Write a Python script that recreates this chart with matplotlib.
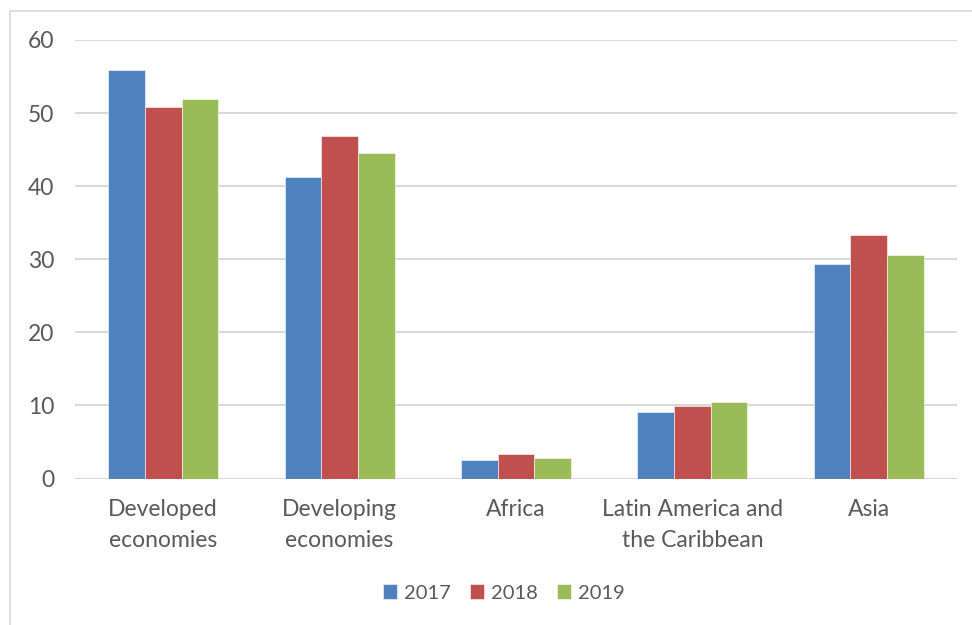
import numpy as np
import matplotlib
matplotlib.use("Agg")
import matplotlib.pyplot as plt
from matplotlib.patches import Rectangle

plt.rcParams['font.family'] = ['Lato', 'DejaVu Sans']

# regions and yearly values
regions = ['Developed\neconomies', 'Developing\neconomies', 'Africa',
           'Latin America and\nthe Caribbean', 'Asia']
years = ['2017', '2018', '2019']
vals_2017 = [55.9, 41.2, 2.5, 9.1, 29.4]
vals_2018 = [50.8, 46.8, 3.3, 9.9, 33.3]
vals_2019 = [51.9, 44.5, 2.8, 10.4, 30.6]
colors = ['#4F81BD', '#C0504D', '#9BBB59']
text_col = '#595959'

fig = plt.figure(figsize=(9.72, 6.25), dpi=100)
ax = fig.add_axes([75 / 972, 1 - 478.5 / 625, 882 / 972, (478.5 - 40) / 625])

# light chart-area frame, cut off on the right and bottom
fig.patches.append(Rectangle((9.5 / 972, -0.1), 1.2, 1 - 10.5 / 625 + 0.1,
                             transform=fig.transFigure, fill=False,
                             edgecolor='#D9D9D9', linewidth=1.2))

x = np.arange(len(regions))
w = 0.208
for i, (v, c, yr) in enumerate(zip([vals_2017, vals_2018, vals_2019], colors, years)):
    ax.bar(x + (i - 1) * w, v, width=w, color=c, edgecolor='#ffffff',
           linewidth=0.4, label=yr, zorder=3)

ax.set_xlim(-0.5, len(regions) - 0.5)
ax.set_ylim(0, 60)
ax.set_yticks(range(0, 61, 10))
ax.yaxis.grid(True, color='#D9D9D9', linewidth=1.5, zorder=0)
ax.set_axisbelow(True)
for s in ax.spines.values():
    s.set_visible(False)
ax.tick_params(length=0, colors=text_col, labelsize=16.5)
ax.tick_params(axis='y', pad=15)
ax.tick_params(axis='x', pad=15)
ax.set_xticks(x)
ax.set_xticklabels(regions, linespacing=1.55)

leg = fig.legend(loc='center', bbox_to_anchor=(504 / 972, 1 - 593 / 625), ncol=3,
                 frameon=False, fontsize=14.5, handlelength=0.7, handleheight=0.7,
                 handletextpad=0.35, columnspacing=0.95)
for t in leg.get_texts():
    t.set_color(text_col)

fig.savefig('out.png', dpi=100)
